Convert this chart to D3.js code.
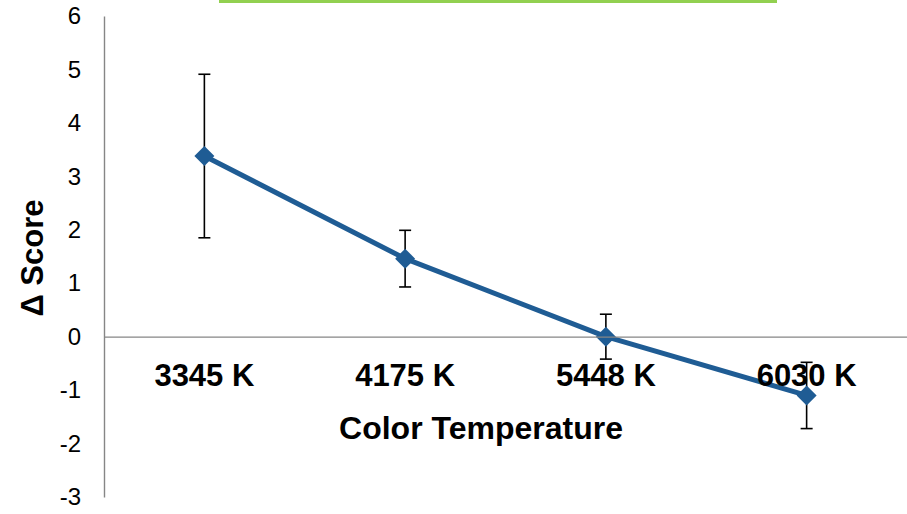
<!DOCTYPE html>
<html>
<head>
<meta charset="utf-8">
<script src="https://cdn.jsdelivr.net/npm/d3@7"></script>
<style>
  html, body { margin: 0; padding: 0; background: #fff; }
  svg { display: block; font-family: Arial, "Liberation Sans", sans-serif; }
</style>
</head>
<body>
<svg id="chart" width="907" height="514"></svg>
<script>
// Change in score by color temperature, with error bars
const categories = ["3345 K", "4175 K", "5448 K", "6030 K"];
const scores = [3.38, 1.46, 0.0, -1.1];
const errors = [1.53, 0.53, 0.42, 0.62];
const yTicks = [6, 5, 4, 3, 2, 1, 0, -1, -2, -3];

const svg = d3.select("#chart");
const plotLeft = 104, plotRight = 907, plotTop = 16, plotBottom = 497;
const FONT = "Arial, 'Liberation Sans', sans-serif";

const x = d3.scaleBand().domain(categories).range([plotLeft, plotRight]);
const y = d3.scaleLinear().domain([-3, 6]).range([plotBottom, plotTop]);

// decorative green rule at the top
svg.append("line")
  .attr("x1", 219).attr("x2", 777).attr("y1", 1.5).attr("y2", 1.5)
  .attr("stroke", "#92D050").attr("stroke-width", 3);

// vertical axis
const yAxis = svg.append("g").attr("transform", `translate(${plotLeft},0)`)
  .call(d3.axisLeft(y).tickValues(yTicks).tickSize(0).tickPadding(23).tickFormat(d => String(d)));
yAxis.select(".domain").attr("stroke", "#868686").attr("stroke-width", 1.4);
yAxis.selectAll("text").attr("font-size", 24).attr("fill", "#000").attr("font-family", FONT);

// horizontal axis line at zero (labels are added after the series so they sit on top)
const xAxis = svg.append("g").attr("transform", `translate(0,${y(0)})`)
  .call(d3.axisBottom(x).tickSize(0).tickPadding(27));
xAxis.select(".domain").attr("stroke", "#868686").attr("stroke-width", 1.4);
xAxis.selectAll("text").attr("font-size", 31).attr("font-weight", "bold").attr("fill", "#000")
  .attr("font-family", FONT);

// axis titles
svg.append("text")
  .attr("x", 481).attr("y", 439)
  .attr("text-anchor", "middle").attr("font-size", 32).attr("font-weight", "bold")
  .text("Color Temperature");
svg.append("text")
  .attr("transform", "translate(43,258) rotate(-90)")
  .attr("text-anchor", "middle").attr("font-size", 31).attr("font-weight", "bold")
  .text("Δ Score");

const cx = d => x(d) + x.bandwidth() / 2;
const data = categories.map((c, i) => ({ c, v: scores[i], e: errors[i] }));

// error bars
const eb = svg.append("g").attr("stroke", "#000").attr("stroke-width", 1.6);
data.forEach(d => {
  eb.append("line").attr("x1", cx(d.c)).attr("x2", cx(d.c))
    .attr("y1", y(d.v + d.e)).attr("y2", y(d.v - d.e));
  [d.v + d.e, d.v - d.e].forEach(t => {
    eb.append("line").attr("x1", cx(d.c) - 6).attr("x2", cx(d.c) + 6)
      .attr("y1", y(t)).attr("y2", y(t));
  });
});

// series line
svg.append("path").datum(data)
  .attr("fill", "none").attr("stroke", "#1F5C94").attr("stroke-width", 5)
  .attr("stroke-linejoin", "round")
  .attr("d", d3.line().x(d => cx(d.c)).y(d => y(d.v)));

// diamond markers
svg.append("g").selectAll("path").data(data).join("path")
  .attr("transform", d => `translate(${cx(d.c)},${y(d.v)})`)
  .attr("d", "M0,-10L10,0L0,10L-10,0Z")
  .attr("fill", "#1F5C94");

// category labels drawn over the series
xAxis.raise();
xAxis.select(".domain").lower();
</script>
</body>
</html>
